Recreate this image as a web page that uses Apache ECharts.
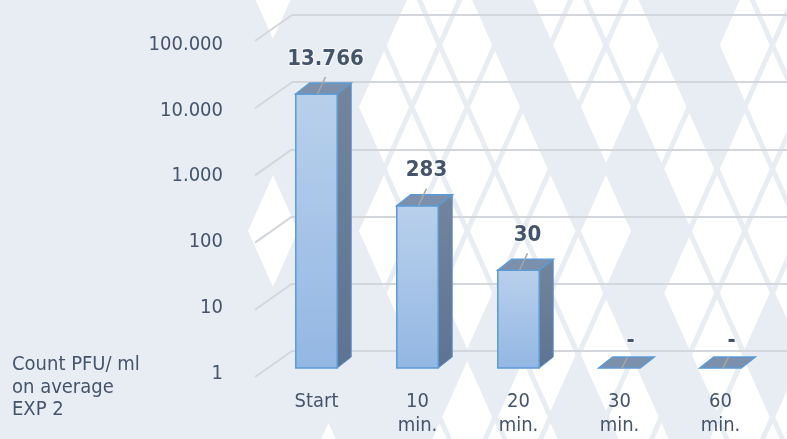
<!DOCTYPE html>
<html><head><meta charset="utf-8">
<script src="https://cdn.jsdelivr.net/npm/echarts@6/dist/echarts.min.js"></script>
<style>html,body{margin:0;padding:0;background:#e8edf4}#c{width:787px;height:439px}</style>
</head><body><div id="c"></div>
<script>
// ---- data ----
const categories = ['Start', '10\nmin.', '20\nmin.', '30\nmin.', '60\nmin.'];
const values = [13766, 283, 30, 0, 0];
const tickValues = [1, 10, 100, 1000, 10000, 100000];
const tickLabels = ['1', '10', '100', '1.000', '10.000', '100.000'];
const axisTitle = 'Count PFU/ ml\non average\nEXP 2';

// ---- styling ----
const FONT = "'DejaVu Sans Condensed', 'DejaVu Sans', sans-serif";
const TXT = '#44546a';
const BG = '#e8edf4';

function fmt(v) {
  if (!v) return '-';
  return String(v).replace(/\B(?=(\d{3})+(?!\d))/g, '.');
}
function tickFmt(val) {
  const k = tickValues.indexOf(Math.round(val));
  return k >= 0 ? tickLabels[k] : '';
}

// decorative harlequin background (white diamonds on blue-grey)
const blueCells = new Set([
  '0,1','0,2','0,4','0,7','0,8',
  '1,1','1,2','1,5','1,8',
  '2,0','2,1','2,5','2,8',
  '3,1','3,2','3,6','3,7',
  '4,1','4,7',
  '5,1','5,2','5,7',
  '6,0','6,1','6,2','6,3','6,4','6,7','6,9',
  '7,1','7,2','7,3','7,6','7,8',
  '8,0','8,2','8,6'
]);
const bgEls = [];
for (let r = 0; r <= 8; r++) {
  const y = -17 + 62 * r;
  const xs = (r % 2 === 0) ? 273 : 245.25;
  for (let c = 0; c <= 10; c++) {
    const x = xs + 55.5 * c;
    if (x < 260) continue;
    if (blueCells.has(r + ',' + c)) continue;
    bgEls.push({
      type: 'polygon', z: -10, silent: true,
      shape: { points: [[x, y - 56], [x + 25, y], [x, y + 56], [x - 25, y]] },
      style: { fill: '#ffffff' }
    });
  }
}
bgEls.push({
  type: 'text', left: 12, top: 354, z: 5, silent: true,
  style: { text: axisTitle, font: '20px ' + FONT, fill: TXT, lineHeight: 22.5 }
});

const frontGrad = new echarts.graphic.LinearGradient(0, 0, 0, 1, [
  { offset: 0, color: '#b9d0ec' }, { offset: 1, color: '#93b7e3' }]);
const sideGrad = new echarts.graphic.LinearGradient(0, 0, 0, 1, [
  { offset: 0, color: '#73859d' }, { offset: 1, color: '#5e7393' }]);

function renderBar(params, api) {
  const i = api.value(0);
  const v = api.value(1);
  const vv = Math.max(v, 1);
  const top = api.coord([i, vv]);
  const base = api.coord([i, 1]);
  const bw = api.size([1, 0])[0] * 0.41;
  const cx = top[0];
  const x0 = cx - bw / 2, x1 = cx + bw / 2;
  const yT = top[1], yB = base[1];
  const dx = 14, dy = -11;
  const ch = [];
  const flat = (yB - yT) < 0.5;
  if (!flat) {
    ch.push({ type: 'polygon', shape: { points: [[x1, yT], [x1 + dx, yT + dy], [x1 + dx, yB + dy], [x1, yB]] },
      style: { fill: sideGrad, stroke: '#5b8fcf', lineWidth: 1 } });
    ch.push({ type: 'rect', shape: { x: x0, y: yT, width: bw, height: yB - yT },
      style: { fill: frontGrad, stroke: '#5b9bd5', lineWidth: 1.5 } });
  }
  ch.push({ type: 'polygon', shape: { points: [[x0, yT], [x1, yT], [x1 + dx, yT + dy], [x0 + dx, yT + dy]] },
    style: { fill: '#7c90ab', stroke: '#5b9bd5', lineWidth: 1.5 } });
  const lab = { text: fmt(v), font: 'bold 22px ' + FONT, fill: TXT, align: 'center', verticalAlign: 'middle',
    stroke: 'rgba(255,255,255,0.65)', lineWidth: 2 };
  if (flat) {
    ch.push({ type: 'line', shape: { x1: cx + 8, y1: yT - 11, x2: cx + 2, y2: yT + 1 },
      style: { stroke: '#a6a6a6', lineWidth: 1.5 } });
    ch.push({ type: 'text', x: cx + 11, y: yT - 27, style: lab });
  } else {
    ch.push({ type: 'line', shape: { x1: cx + 9, y1: yT - 17, x2: cx + 1, y2: yT },
      style: { stroke: '#a6a6a6', lineWidth: 1.5 } });
    ch.push({ type: 'text', x: cx + 9, y: yT - 35, style: lab });
  }
  return { type: 'group', children: ch };
}

function renderDiag(params, api) {
  const p = api.coord([0, api.value(1)]);
  return { type: 'line', shape: { x1: p[0] - 37, y1: p[1] + 26, x2: p[0], y2: p[1] },
    style: { stroke: '#d3d6db', lineWidth: 2 } };
}

const chart = echarts.init(document.getElementById('c'), null, { renderer: 'canvas' });
chart.setOption({
  backgroundColor: BG,
  animation: false,
  graphic: { elements: bgEls },
  grid: [
    { left: 266, right: 16, top: 37, bottom: 71 },      // bar front plane
    { left: 292, right: 0, top: 15, bottom: 88 },       // back wall
    { left: 266, right: 16, top: 44.5, bottom: 65.5 }   // front edge (tick labels)
  ],
  xAxis: [
    { type: 'category', gridIndex: 0, data: categories,
      axisLine: { show: false }, axisTick: { show: false }, splitLine: { show: false },
      axisLabel: { margin: 22, fontFamily: FONT, fontSize: 20, color: TXT, lineHeight: 24 } },
    { type: 'value', gridIndex: 1, min: 0, max: 1, show: false },
    { type: 'value', gridIndex: 2, min: 0, max: 1, show: false }
  ],
  yAxis: [
    { type: 'log', gridIndex: 0, logBase: 10, min: 1, max: 100000, show: false },
    { type: 'log', gridIndex: 1, logBase: 10, min: 1, max: 100000,
      axisLine: { show: false }, axisTick: { show: false }, axisLabel: { show: false },
      splitLine: { show: true, lineStyle: { color: '#d3d6db', width: 2 } } },
    { type: 'log', gridIndex: 2, logBase: 10, min: 1, max: 100000,
      axisLine: { show: false }, axisTick: { show: false }, splitLine: { show: false },
      axisLabel: { margin: 43, fontFamily: FONT, fontSize: 20, color: TXT, formatter: tickFmt } }
  ],
  series: [
    { type: 'custom', xAxisIndex: 1, yAxisIndex: 1, silent: true, z: 1,
      data: tickValues.map(v => [0, v]), renderItem: renderDiag },
    { type: 'custom', xAxisIndex: 0, yAxisIndex: 0, silent: true, z: 3,
      data: values.map((v, i) => [i, v]), renderItem: renderBar }
  ]
});
</script>
</body></html>
